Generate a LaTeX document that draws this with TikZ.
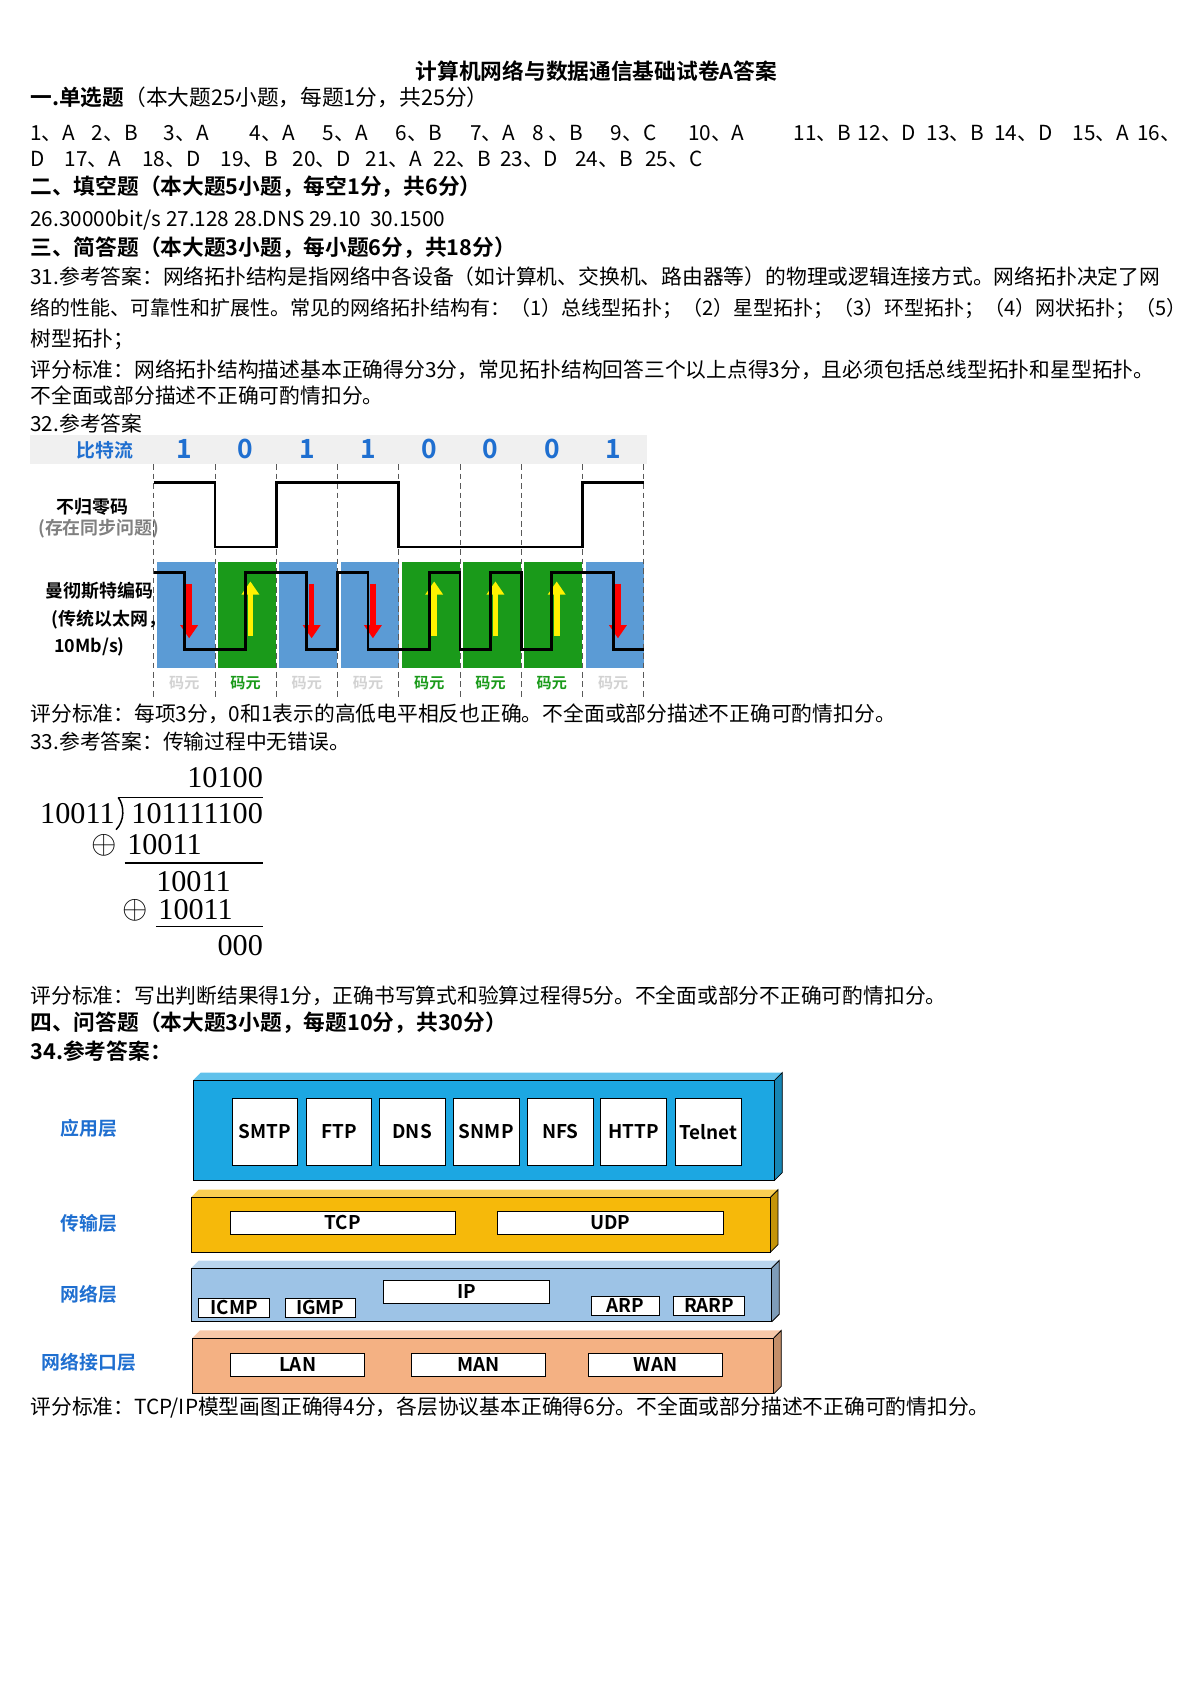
\documentclass[tikz,border=0pt]{standalone}
\usepackage{fontspec}
\setmainfont{Liberation Serif}
\newfontfamily\cjk{Noto Sans CJK SC}
\newfontfamily\hei{Noto Sans CJK SC Bold}
\usetikzlibrary{arrows.meta}
\definecolor{appblue}{HTML}{1CA7E2}
\definecolor{tryellow}{HTML}{F6B90A}
\definecolor{netblue}{HTML}{9DC3E6}
\definecolor{linkred}{HTML}{F4B183}
\definecolor{mblue}{HTML}{5B9BD5}
\definecolor{mgreen}{HTML}{1A9A1A}
\definecolor{lblue}{HTML}{1F6FD0}
\tikzset{
  txt/.style={anchor=west, inner sep=0pt, font=\cjk\fontsize{11}{13}\selectfont},
  head/.style={anchor=west, inner sep=0pt, font=\hei\fontsize{11.5}{13}\selectfont},
  big/.style={inner sep=0pt, font=\fontsize{16}{18}\selectfont},
  proto/.style={draw, fill=white, inner sep=0pt, font=\hei\fontsize{10}{12}\selectfont},
  lay/.style={inner sep=0pt, text=lblue, font=\hei\fontsize{10}{12}\selectfont},
}
% layer box with depth
\newcommand{\layerbox}[5]{%
  \fill[#5!80!black] (#3,#2) -- (#3+7,#2-7) -- (#3+7,#4-7) -- (#3,#4) -- cycle;
  \fill[#5!70!white] (#1,#2) -- (#1+7,#2-7) -- (#3+7,#2-7) -- (#3,#2) -- cycle;
  \draw[fill=#5] (#1,#2) rectangle (#3,#4);
  \draw (#3,#2) -- (#3+7,#2-7) -- (#3+7,#4-7) -- (#3,#4);
}
\begin{document}
\begin{tikzpicture}[x=0.02cm,y=-0.02cm]
  \useasboundingbox (0,0) rectangle (1108,1567);
  \node[head, anchor=center] (title) at (555,66) {计算机网络与数据通信基础试卷A答案};
  \node[head] (s1) at (28,91) {一.单选题\cjk\mdseries（本大题25小题，每题1分，共25分）};
  \foreach \x/\t [count=\k] in {28/1、A,85/2、B,152/3、A,232/4、A,300/5、A,368/6、B,437/7、A,495/8 、B,568/9、C,640/10、A,738/11、B,798/12、D,862/13、B,925/14、D,998/15、A,1058/16、}
    \node[txt] (a\k) at (\x,124) {\t};
  \foreach \x/\t [count=\k] in {28/D,60/17、A,132/18、D,205/19、B,272/20、D,340/21、A,403/22、B,465/23、D,535/24、B,600/25、C}
    \node[txt] (b\k) at (\x,148) {\t};
  \node[head] (s2) at (28,174) {二、填空题（本大题5小题，每空1分，共6分）};
  \node[txt] (fill) at (28,205) {26.30000bit/s 27.128 28.DNS 29.10\ \ 30.1500};
  \node[head] (s3) at (28,230) {三、简答题（本大题3小题，每小题6分，共18分）};
  \node[txt] (q31a) at (28,257) {31.参考答案：网络拓扑结构是指网络中各设备（如计算机、交换机、路由器等）的物理或逻辑连接方式。网络拓扑决定了网};
  \node[txt, font=\cjk\fontsize{10.6}{13}\selectfont] (q31b) at (28,287) {络的性能、可靠性和扩展性。常见的网络拓扑结构有：（1）总线型拓扑；（2）星型拓扑；（3）环型拓扑；（4）网状拓扑；（5）};
  \node[txt] (q31c) at (28,316) {树型拓扑；};
  \node[txt] (p31a) at (28,344) {评分标准：网络拓扑结构描述基本正确得分3分，常见拓扑结构回答三个以上点得3分，且必须包括总线型拓扑和星型拓扑。};
  \node[txt] (p31b) at (28,368) {不全面或部分描述不正确可酌情扣分。};
  \node[txt] (q32) at (28,394) {32.参考答案};
  % Manchester figure
  \fill[gray!12] (28,405) rectangle (602,432);
  \node[lay] (bits) at (98,419) {比特流};
  \foreach \b [count=\i from 0] in {1,0,1,1,0,0,0,1} {
    \node[inner sep=0pt, text=lblue, font=\hei\fontsize{14}{16}\selectfont] (bit\i) at (171.5+57*\i,418) {\b};
    \ifnum\b=1
      \fill[mblue] (146+57*\i,523) rectangle (200+57*\i,622);
    \else
      \fill[mgreen] (146+57*\i,523) rectangle (200+57*\i,622);
    \fi
  }
  \foreach \i in {0,...,8}
    \draw[densely dashed, gray!70!black] (143+57*\i,432) -- (143+57*\i,650);
  \foreach \b [count=\i from 0] in {1,0,1,1,0,0,0,1} {
    \ifnum\b=1
      \draw[red, line width=3pt, -{Triangle[length=7pt,width=9pt]}] (176+57*\i,543) -- (176+57*\i,594);
      \node[inner sep=0pt, text=gray!35, font=\hei\fontsize{8}{10}\selectfont] (cy\i) at (171.5+57*\i,636) {码元};
    \else
      \draw[yellow, line width=3pt, -{Triangle[length=7pt,width=9pt]}] (233+57*\i-57,592) -- (233+57*\i-57,541);
      \node[inner sep=0pt, text=mgreen, font=\hei\fontsize{8}{10}\selectfont] (cy\i) at (171.5+57*\i,636) {码元};
    \fi
  }
  \draw[line width=1.5pt] (143,449) -- (200,449) -- (200,509) -- (257,509) -- (257,449) -- (371,449) -- (371,509) -- (542,509) -- (542,449) -- (599,449);
  \draw[line width=1.5pt] (143,533) -- (171.5,533) -- (171.5,604) -- (228.5,604) -- (228.5,533) -- (285.5,533) -- (285.5,604) -- (314,604) -- (314,533) -- (342.5,533) -- (342.5,604) -- (399.5,604) -- (399.5,533) -- (428,533) -- (428,604) -- (456.5,604) -- (456.5,533) -- (485,533) -- (485,604) -- (513.5,604) -- (513.5,533) -- (570.5,533) -- (570.5,604) -- (599,604);
  \node[inner sep=0pt, font=\hei\fontsize{9.5}{11}\selectfont] (nrz) at (86,472) {不归零码};
  \node[inner sep=0pt, text=gray, font=\hei\fontsize{9.5}{11}\selectfont] (nrz2) at (92,492) {(存在同步问题)};
  \node[inner sep=0pt, anchor=west, font=\hei\fontsize{9.5}{11}\selectfont] (man) at (42,550) {曼彻斯特编码};
  \node[inner sep=0pt, anchor=west, font=\hei\fontsize{9.5}{11}\selectfont] (man2) at (48,577) {(传统以太网，};
  \node[inner sep=0pt, anchor=west, font=\hei\fontsize{9.5}{11}\selectfont] (man3) at (50,602) {10Mb/s)};
  \node[txt] (p32) at (28,664) {评分标准：每项3分，0和1表示的高低电平相反也正确。不全面或部分描述不正确可酌情扣分。};
  \node[txt] (q33) at (28,690) {33.参考答案：传输过程中无错误。};
  % long division
  \node[big, anchor=east] (quot) at (245,724) {10100};
  \node[big, anchor=east] (divs) at (107,757) {10011};
  \node[big, anchor=east] (divd) at (245,757) {101111100};
  \draw[thick] (110,742) -- (245,742);
  \draw[thick] (110,742) .. controls (116,750) and (116,764) .. (108,772);
  \node[big] (ox1) at (97,787) {$\oplus$};
  \node[big, anchor=east] (r1) at (188,786) {10011};
  \draw[thick] (116,803) -- (245,803);
  \node[big, anchor=east] (r2) at (215,820) {10011};
  \node[big] (ox2) at (126,847) {$\oplus$};
  \node[big, anchor=east] (r3) at (217,846) {10011};
  \draw[thick] (145,862) -- (245,862);
  \node[big, anchor=east] (rem) at (245,880) {000};
  \node[txt] (p33) at (28,927) {评分标准：写出判断结果得1分，正确书写算式和验算过程得5分。不全面或部分不正确可酌情扣分。};
  \node[head] (s4) at (28,952) {四、问答题（本大题3小题，每题10分，共30分）};
  \node[head] (q34) at (28,978) {34.参考答案：};
  % TCP/IP layers
  \layerbox{180}{1005}{721}{1098}{appblue}
  \layerbox{178}{1114}{717}{1165}{tryellow}
  \layerbox{178}{1180}{718}{1230}{netblue}
  \layerbox{179}{1245}{720}{1297}{linkred}
  \foreach \l/\r/\t [count=\k] in {216/277/SMTP,285/346/FTP,353/414/DNS,422/483/SNMP,491/552/NFS,559/620/HTTP,628/690/Telnet}
    \node[proto, minimum width={(\r-\l)*0.02cm}, minimum height=1.24cm] (app\k) at ({(\l+\r)/2},1053) {\t};
  \node[proto, minimum width=4.2cm, minimum height=0.44cm] (tcp) at (319,1138) {TCP};
  \node[proto, minimum width=4.2cm, minimum height=0.44cm] (udp) at (568,1138) {UDP};
  \node[proto, minimum width=3.08cm, minimum height=0.42cm] (ip) at (434,1202) {IP};
  \node[proto, minimum width=1.32cm, minimum height=0.36cm] (icmp) at (218,1217) {ICMP};
  \node[proto, minimum width=1.3cm, minimum height=0.36cm] (igmp) at (298,1217) {IGMP};
  \node[proto, minimum width=1.28cm, minimum height=0.36cm] (arp) at (582,1215) {ARP};
  \node[proto, minimum width=1.32cm, minimum height=0.36cm] (rarp) at (660,1215) {RARP};
  \node[proto, minimum width=2.5cm, minimum height=0.44cm] (lan) at (277,1270) {LAN};
  \node[proto, minimum width=2.5cm, minimum height=0.44cm] (man) at (445,1270) {MAN};
  \node[proto, minimum width=2.5cm, minimum height=0.44cm] (wan) at (610,1270) {WAN};
  \node[lay] (l4) at (83,1050) {应用层};
  \node[lay] (l3) at (83,1138) {传输层};
  \node[lay] (l2) at (83,1204) {网络层};
  \node[lay] (l1) at (83,1268) {网络接口层};
  \node[txt] (p34) at (28,1310) {评分标准：TCP/IP模型画图正确得4分，各层协议基本正确得6分。不全面或部分描述不正确可酌情扣分。};
\end{tikzpicture}
\end{document}
